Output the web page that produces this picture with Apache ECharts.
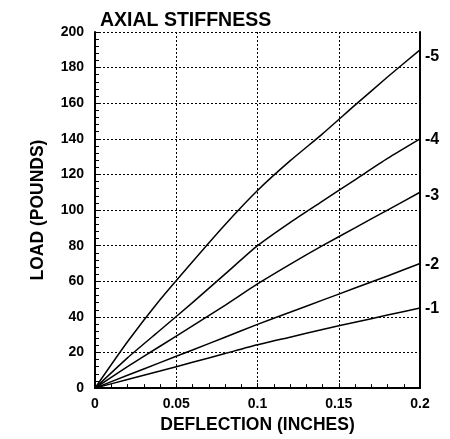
<!DOCTYPE html>
<html>
<head>
<meta charset="utf-8">
<script src="https://cdn.jsdelivr.net/npm/echarts@6/dist/echarts.min.js"></script>
<style>
html,body{margin:0;padding:0;background:#fff;}
#c{width:450px;height:439px;}
</style>
</head>
<body>
<div id="c"></div>
<script>
// Deflection (inches) sample points
const deflection = [0, 0.02, 0.04, 0.06, 0.08, 0.1, 0.12, 0.14, 0.16, 0.18, 0.2];
// Load (pounds) for each size
const load5 = [0, 26, 49.6, 71, 91.8, 111, 127.6, 142.8, 158.9, 174.7, 190];
const load4 = [0, 17, 32.5, 48, 64, 80, 93, 105, 117, 129, 140];
const load3 = [0, 12, 23.5, 35, 46.5, 58.5, 69.5, 80, 90, 100, 110];
const load2 = [0, 7.2, 14.3, 21.4, 28.6, 35.8, 42.6, 49.4, 56.2, 63, 70];
const load1 = [0, 4.8, 9.6, 14.5, 19.4, 24.3, 28.6, 32.9, 37, 41, 45];
const seriesNames = ['-5', '-4', '-3', '-2', '-1'];
const seriesLoads = [load5, load4, load3, load2, load1];
const labelOffsetY = [7, 1, 3.5, 1, 0.5];

const xTicks = [0, 0.05, 0.1, 0.15, 0.2];
const yTicks = [0, 20, 40, 60, 80, 100, 120, 140, 160, 180, 200];

const chart = echarts.init(document.getElementById('c'), null, {renderer: 'canvas'});

const tickFont = {fontFamily: 'Liberation Sans', fontWeight: 'bold', fontSize: 14, color: '#000'};

const series = seriesNames.map((name, i) => ({
  name: name,
  type: 'line',
  data: deflection.map((x, j) => [x, seriesLoads[i][j]]),
  showSymbol: false,
  symbol: 'none',
  smooth: 0.2,
  lineStyle: {color: '#000', width: 1.5},
  itemStyle: {color: '#000'},
  clip: false,
  endLabel: {
    show: true,
    formatter: name,
    distance: 5,
    offset: [0, labelOffsetY[i]],
    fontFamily: 'Liberation Sans',
    fontWeight: 'bold',
    fontSize: 16,
    color: '#000'
  },
  z: 3
}));

chart.setOption({
  animation: false,
  backgroundColor: '#fff',
  title: {
    text: 'AXIAL STIFFNESS',
    left: 95,
    top: 6,
    textStyle: {fontFamily: 'Liberation Sans', fontWeight: 'bold', fontSize: 19.5, color: '#000'}
  },
  grid: {left: 95, right: 30, top: 32, bottom: 46, containLabel: false},
  xAxis: {
    type: 'value',
    min: xTicks[0],
    max: xTicks[xTicks.length - 1],
    interval: xTicks[1] - xTicks[0],
    name: 'DEFLECTION (INCHES)',
    nameLocation: 'middle',
    nameGap: 25,
    nameTextStyle: {fontFamily: 'Liberation Sans', fontWeight: 'bold', fontSize: 17.5, color: '#000'},
    axisLine: {show: true, lineStyle: {color: '#000', width: 2}},
    axisTick: {show: true, inside: true, length: 5, lineStyle: {color: '#000', width: 1}},
    minorTick: {show: true, splitNumber: 5, length: 4, lineStyle: {color: '#000', width: 1}},
    axisLabel: Object.assign({margin: 9, formatter: v => String(v)}, tickFont),
    splitLine: {show: true, lineStyle: {color: '#000', width: 1, type: [2, 2]}}
  },
  yAxis: [{
    type: 'value',
    min: yTicks[0],
    max: yTicks[yTicks.length - 1],
    interval: yTicks[1] - yTicks[0],
    name: 'LOAD (POUNDS)',
    nameLocation: 'middle',
    nameGap: 48,
    nameTextStyle: {fontFamily: 'Liberation Sans', fontWeight: 'bold', fontSize: 17.5, color: '#000'},
    axisLine: {show: true, lineStyle: {color: '#000', width: 2}},
    axisTick: {show: true, inside: true, length: 5, lineStyle: {color: '#000', width: 1}},
    minorTick: {show: true, splitNumber: 5, length: 4, lineStyle: {color: '#000', width: 1}},
    axisLabel: Object.assign({margin: 11}, tickFont),
    splitLine: {show: true, lineStyle: {color: '#000', width: 1, type: [2, 2]}}
  }, {
    type: 'value',
    position: 'right',
    min: yTicks[0],
    max: yTicks[yTicks.length - 1],
    interval: yTicks[1] - yTicks[0],
    axisLine: {show: true, lineStyle: {color: '#000', width: 2}},
    axisTick: {show: false},
    axisLabel: {show: false},
    splitLine: {show: false}
  }],
  series: series
});
</script>
</body>
</html>
